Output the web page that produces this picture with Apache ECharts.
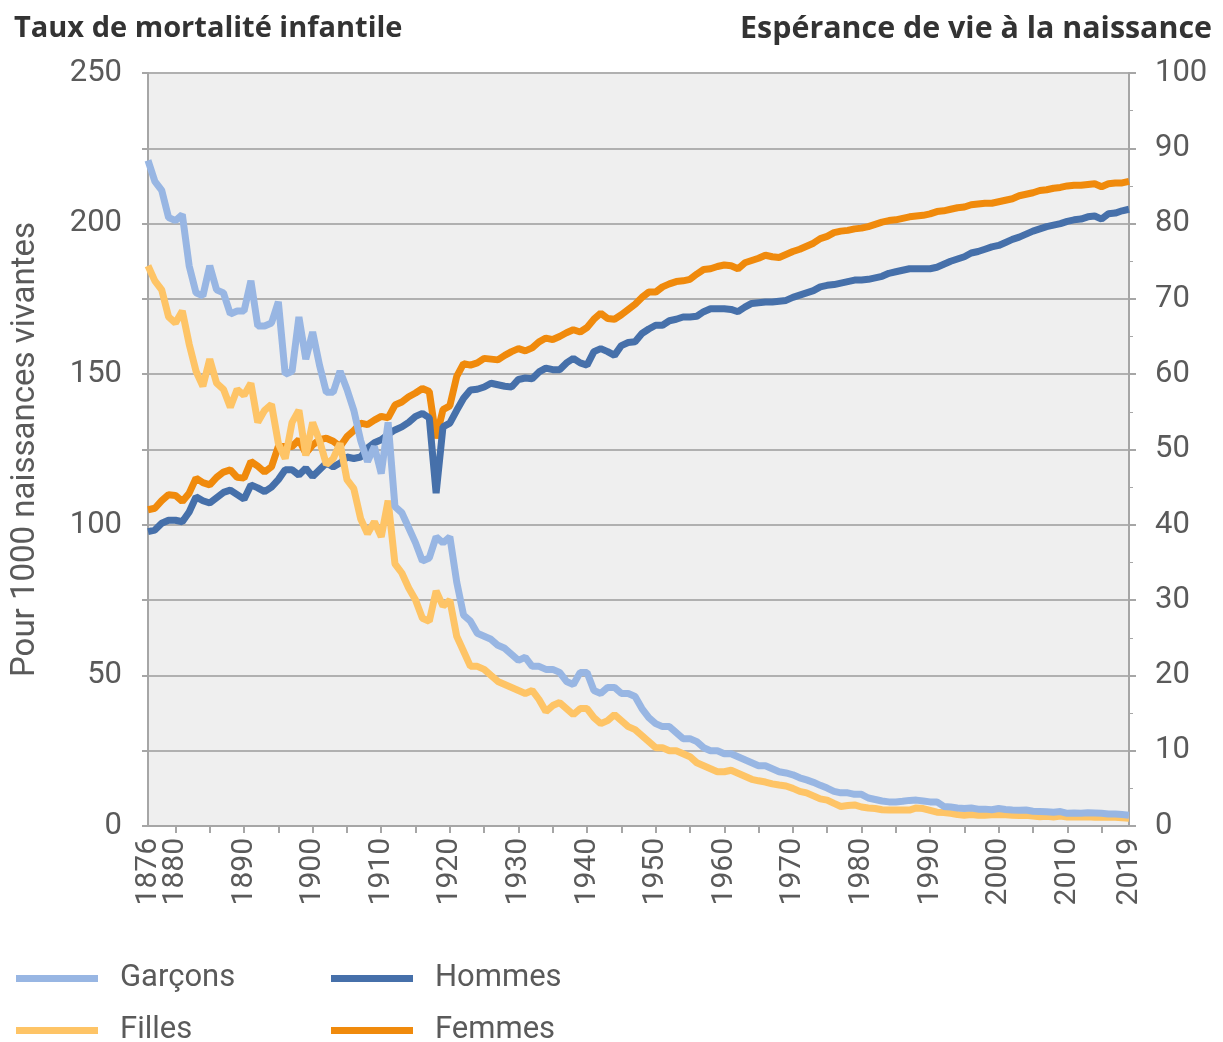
<!DOCTYPE html>
<html>
<head>
<meta charset="utf-8">
<script src="https://cdn.jsdelivr.net/npm/echarts@6/dist/echarts.min.js"></script>
<style>
html,body{margin:0;padding:0;background:#fff;}
#chart{width:1223px;height:1042px;}
</style>
</head>
<body>
<div id="chart"></div>
<script>
const firstYear = 1876;
const firstYearLabel = [1876];
const xTickLabels = [1880, 1890, 1900, 1910, 1920, 1930, 1940, 1950, 1960, 1970, 1980, 1990, 2000, 2010, 2019];
const xTicks = [1880, 1885, 1890, 1895, 1900, 1905, 1910, 1915, 1920, 1925, 1930, 1935, 1940, 1945, 1950, 1955, 1960, 1965, 1970, 1975, 1980, 1985, 1990, 1995, 2000, 2005, 2010, 2015];

const garcons = [
  221, 214, 211, 202,
  201, 203, 186, 177, 176, 186, 178, 177, 170, 171,
  171, 181, 166, 166, 167, 174, 150, 151, 169, 155,
  164, 153, 144, 144, 151, 145, 138, 128, 121, 126,
  117, 134, 106, 104, 99, 94, 88, 89, 96, 94,
  96, 81, 70, 68, 64, 63, 62, 60, 59, 57,
  55, 56, 53, 53, 52, 52, 51, 48, 47, 51,
  51, 45, 44, 46, 46, 44, 44, 43, 39, 36,
  34, 33, 33, 31, 29, 29, 28, 26, 25, 25,
  24, 24, 23, 22, 21, 20, 20, 19, 18, 17.6,
  17, 16, 15.3, 14.5, 13.5, 12.6, 11.5, 11, 11, 10.5,
  10.5, 9.3, 8.8, 8.3, 8, 8, 8.2, 8.5, 8.6, 8.3,
  8, 8, 6.5, 6.3, 6, 5.8, 6, 5.6, 5.6, 5.4,
  5.8, 5.5, 5.3, 5.2, 5.3, 4.9, 4.8, 4.7, 4.6, 4.8,
  4.2, 4.3, 4.2, 4.4, 4.3, 4.2, 4.0, 4.0, 3.8, 3.6
];
const filles = [
  186, 181, 178, 169,
  167, 171, 160, 151, 146, 155, 147, 145, 139, 145,
  143, 147, 134, 138, 140, 127, 122, 134, 138, 123,
  134, 128, 120, 122, 127, 115, 112, 102, 97, 101,
  96, 108, 87, 84, 79, 75, 69, 68, 78, 73,
  75, 63, 58, 53, 53, 52, 50, 48, 47, 46,
  45, 44, 45, 42, 38, 40, 41, 39, 37, 39,
  39, 36, 34, 35, 37, 35, 33, 32, 30, 28,
  26, 26, 25, 25, 24, 23, 21, 20, 19, 18,
  18, 18.5, 17.5, 16.5, 15.5, 15, 14.6, 14, 13.6, 13.3,
  12.5, 11.5, 11, 10, 9, 8.6, 7.5, 6.5, 6.8, 7,
  6.3, 6, 5.8, 5.4, 5.3, 5.3, 5.3, 5.3, 6, 5.8,
  5.2, 4.6, 4.5, 4.2, 3.8, 3.6, 3.8, 3.6, 3.6, 3.7,
  3.8, 3.7, 3.6, 3.5, 3.6, 3.3, 3.1, 3.2, 3.0, 3.3,
  3.0, 3.1, 3.0, 3.1, 2.9, 3.0, 2.9, 2.9, 2.7, 2.6
];
const hommes = [
  39.1, 39.3, 40.2, 40.6,
  40.6, 40.4, 41.7, 43.7, 43.2, 42.9, 43.6, 44.3, 44.6, 44.0,
  43.4, 45.3, 44.9, 44.4, 45.0, 46.0, 47.3, 47.3, 46.6, 47.5,
  46.4, 47.3, 48.2, 47.7, 48.2, 49.0, 48.8, 49.0, 50.2, 50.9,
  51.3, 52.0, 52.6, 53.0, 53.6, 54.4, 54.8, 54.2, 44.2, 53.0,
  53.5, 55.2, 56.8, 57.9, 58.0, 58.3, 58.8, 58.6, 58.4, 58.3,
  59.3, 59.5, 59.4, 60.3, 60.8, 60.6, 60.6, 61.5, 62.1, 61.5,
  61.2, 63.0, 63.4, 63.0, 62.5, 63.8, 64.2, 64.3, 65.4, 66.0,
  66.5, 66.5, 67.1, 67.3, 67.6, 67.6, 67.7, 68.3, 68.7, 68.7,
  68.7, 68.6, 68.3, 68.9, 69.4, 69.5, 69.6, 69.6, 69.7, 69.8,
  70.2, 70.5, 70.8, 71.1, 71.6, 71.8, 71.9, 72.1, 72.3, 72.5,
  72.5, 72.6, 72.8, 73.0, 73.4, 73.6, 73.8, 74.0, 74.0, 74.0,
  74.0, 74.2, 74.6, 75.0, 75.3, 75.6, 76.1, 76.3, 76.6, 76.9,
  77.1, 77.5, 77.9, 78.2, 78.6, 79.0, 79.3, 79.6, 79.8, 80.0,
  80.3, 80.5, 80.6, 80.9, 81.0, 80.6, 81.3, 81.4, 81.7, 81.9
];
const femmes = [
  42.0, 42.2, 43.2, 44.0,
  43.9, 43.1, 44.2, 46.2, 45.6, 45.3, 46.3, 47.0, 47.3, 46.3,
  46.2, 48.4, 47.8, 47.0, 47.7, 50.4, 50.4, 50.4, 51.3, 49.5,
  50.6, 51.3, 51.5, 51.1, 50.4, 51.7, 52.5, 53.5, 53.3, 53.9,
  54.4, 54.2, 55.9, 56.3, 57.0, 57.5, 58.1, 57.7, 51.5, 55.3,
  55.8, 59.7, 61.4, 61.2, 61.5, 62.1, 62.0, 61.9, 62.5, 63.0,
  63.4, 63.1, 63.5, 64.3, 64.8, 64.6, 65.0, 65.5, 65.9, 65.6,
  66.2, 67.3, 68.1, 67.4, 67.3, 67.9, 68.6, 69.3, 70.2, 70.9,
  70.9, 71.6, 72.0, 72.3, 72.4, 72.6, 73.3, 73.9, 74.0, 74.3,
  74.5, 74.4, 74.0, 74.8, 75.1, 75.4, 75.8, 75.6, 75.5, 75.9,
  76.3, 76.6, 77.0, 77.4, 78.0, 78.3, 78.8, 79.0, 79.1, 79.3,
  79.4, 79.6, 79.9, 80.2, 80.4, 80.5, 80.7, 80.9, 81.0, 81.1,
  81.3, 81.6, 81.7, 81.9, 82.1, 82.2, 82.5, 82.6, 82.7, 82.7,
  82.9, 83.1, 83.3, 83.7, 83.9, 84.1, 84.4, 84.5, 84.7, 84.8,
  85.0, 85.1, 85.1, 85.2, 85.3, 84.9, 85.3, 85.4, 85.4, 85.6
];

const colors = { garcons: '#98b6e3', filles: '#fec466', hommes: '#4670aa', femmes: '#f08a0c' };
const toPairs = arr => arr.map((v, i) => [firstYear + i, v]);
const FONT = 'Roboto';
const labelColor = '#5a5a5a';
const gridColor = '#b0b0b0';
const axisColor = '#a6a6a6';

const chart = echarts.init(document.getElementById('chart'), null, { renderer: 'canvas' });

function legendItem(name, left, top) {
  return {
    left: left, top: top, orient: 'horizontal',
    data: [name],
    icon: 'rect', itemWidth: 82, itemHeight: 7,
    selectedMode: false,
    textStyle: { fontFamily: FONT, fontSize: 31, color: labelColor, padding: [0, 0, 0, 17] }
  };
}

const xLabelStyle = {
  rotate: 90, margin: 12,
  showMinLabel: true, showMaxLabel: true, hideOverlap: false,
  fontFamily: FONT, fontSize: 30, color: labelColor,
  formatter: v => String(v)
};

const option = {
  backgroundColor: '#ffffff',
  animation: false,
  title: [
    { text: 'Taux de mortalité infantile', left: 9, top: 9,
      textStyle: { fontFamily: 'Open Sans', fontWeight: 'bold', fontSize: 29, color: '#333333' } },
    { text: 'Espérance de vie à la naissance', right: 6, top: 9,
      textStyle: { fontFamily: 'Open Sans', fontWeight: 'bold', fontSize: 30.4, color: '#333333' } }
  ],
  legend: [
    legendItem('Garçons', 11, 958),
    legendItem('Hommes', 326, 958),
    legendItem('Filles', 11, 1010),
    legendItem('Femmes', 326, 1010)
  ],
  grid: {
    left: 148, right: 94, top: 73, bottom: 216,
    show: true, backgroundColor: '#efefef', borderWidth: 0
  },
  xAxis: [
    {
      type: 'value', min: 1876, max: 2019, position: 'bottom',
      axisLine: { show: true, lineStyle: { color: axisColor, width: 2 } },
      axisTick: { show: true, length: 7, lineStyle: { color: axisColor, width: 2 }, customValues: xTicks },
      axisLabel: Object.assign({ customValues: xTickLabels }, xLabelStyle),
      splitLine: { show: false }
    },
    {
      type: 'value', min: 1876, max: 2019, position: 'bottom', offset: 0,
      axisLine: { show: false },
      axisTick: { show: false },
      axisLabel: Object.assign({ customValues: firstYearLabel }, xLabelStyle),
      splitLine: { show: false }
    }
  ],
  yAxis: [
    {
      type: 'value', min: 0, max: 250, interval: 25, position: 'left',
      name: 'Pour 1000 naissances vivantes', nameLocation: 'middle', nameRotate: 90, nameGap: 106,
      nameTextStyle: { fontFamily: FONT, fontSize: 33, color: labelColor },
      axisLine: { show: true, lineStyle: { color: axisColor, width: 2 } },
      axisTick: { show: true, length: 6, lineStyle: { color: axisColor, width: 2 } },
      axisLabel: { fontFamily: FONT, fontSize: 31, color: labelColor, margin: 26,
        formatter: v => (v % 50 === 0 ? String(v) : '') },
      splitLine: { show: true, lineStyle: { color: gridColor, width: 2 } }
    },
    {
      type: 'value', min: 0, max: 100, interval: 10, position: 'right',
      axisLine: { show: true, lineStyle: { color: axisColor, width: 2 } },
      axisTick: { show: true, length: 7, lineStyle: { color: axisColor, width: 2 } },
      minorTick: { show: true, splitNumber: 2, length: 4, lineStyle: { color: axisColor, width: 1 } },
      axisLabel: { fontFamily: FONT, fontSize: 31, color: labelColor, margin: 26 },
      splitLine: { show: false }
    }
  ],
  series: [
    { name: 'Femmes', type: 'line', xAxisIndex: 0, yAxisIndex: 1, data: toPairs(femmes), showSymbol: false,
      lineStyle: { color: colors.femmes, width: 7 }, itemStyle: { color: colors.femmes } },
    { name: 'Hommes', type: 'line', xAxisIndex: 0, yAxisIndex: 1, data: toPairs(hommes), showSymbol: false,
      lineStyle: { color: colors.hommes, width: 7 }, itemStyle: { color: colors.hommes } },
    { name: 'Filles', type: 'line', xAxisIndex: 0, yAxisIndex: 0, data: toPairs(filles), showSymbol: false,
      lineStyle: { color: colors.filles, width: 7 }, itemStyle: { color: colors.filles } },
    { name: 'Garçons', type: 'line', xAxisIndex: 0, yAxisIndex: 0, data: toPairs(garcons), showSymbol: false,
      lineStyle: { color: colors.garcons, width: 7 }, itemStyle: { color: colors.garcons } }
  ]
};
chart.setOption(option);
</script>
</body>
</html>
